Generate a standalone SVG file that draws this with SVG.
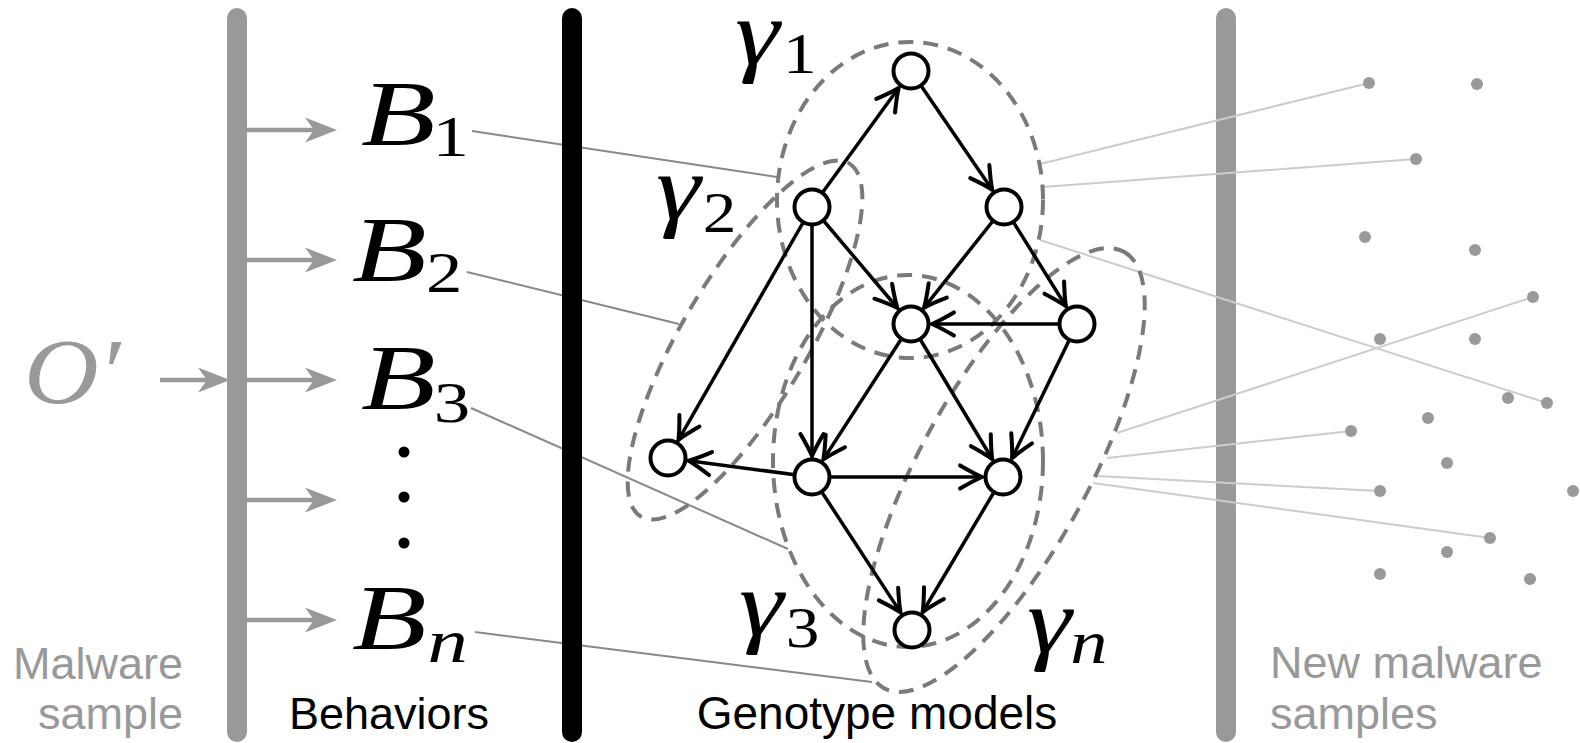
<svg xmlns="http://www.w3.org/2000/svg" width="1580" height="743" viewBox="0 0 1580 743">
<style>
.bar{stroke-width:20;stroke-linecap:round;fill:none}
.garrow{stroke:#999;stroke-width:4.5;fill:none}
.blink{stroke:#888;stroke-width:2;fill:none}
.slink{stroke:#ccc;stroke-width:2;fill:none}
.hull{fill:none;stroke:#7a7a7a;stroke-width:4;stroke-dasharray:15 10}
.edge{stroke:#000;stroke-width:3.5;fill:none}
.node{fill:#fff;stroke:#000;stroke-width:4}
.math{font-family:"Liberation Serif","Times New Roman",serif;font-size:94px;font-style:italic}
.sub{font-size:56px;font-style:normal}
.subi{font-size:62px;font-style:italic}
.lbl{font-family:"Liberation Sans",Arial,sans-serif;font-size:45px}
.dot{fill:#999}
</style>
<defs>
<marker id="ga" markerUnits="userSpaceOnUse" markerWidth="40" markerHeight="30" refX="0" refY="0" viewBox="-25 -15 40 30" orient="auto" overflow="visible">
<path d="M12,0 L-20,-12.5 L-11,0 L-20,12.5 Z" fill="#999"/>
</marker>
<marker id="ba" markerUnits="userSpaceOnUse" markerWidth="30" markerHeight="30" refX="0" refY="0" viewBox="-22 -12 26 24" orient="auto" overflow="visible">
<path d="M-19,-10 Q-7,-3 0,0 Q-7,3 -19,10" fill="none" stroke="#000" stroke-width="3.5" stroke-linecap="round"/>
</marker>
</defs>
<rect width="1580" height="743" fill="#fff"/>

<g id="behavior-links">
<line class="blink" x1="472" y1="131" x2="777" y2="177"/>
<line class="blink" x1="467" y1="272" x2="679" y2="324"/>
<line class="blink" x1="471" y1="408" x2="788" y2="549"/>
<line class="blink" x1="475" y1="632" x2="872" y2="682"/>
</g>

<g id="bars">
<line class="bar" stroke="#999" x1="237" y1="18" x2="237" y2="732"/>
<line class="bar" stroke="#000" x1="572" y1="18" x2="572" y2="732"/>
<line class="bar" stroke="#999" x1="1226" y1="18" x2="1226" y2="732"/>
</g>

<g id="sample-links">
<line class="slink" x1="1040" y1="164" x2="1369" y2="83"/>
<line class="slink" x1="1043" y1="187" x2="1416" y2="159"/>
<line class="slink" x1="1040" y1="240" x2="1547" y2="403"/>
<line class="slink" x1="1117" y1="433" x2="1533" y2="297"/>
<line class="slink" x1="1107" y1="458" x2="1351" y2="431"/>
<line class="slink" x1="1097" y1="476" x2="1380" y2="491"/>
<line class="slink" x1="1093" y1="483" x2="1490" y2="538"/>
</g>

<g id="new-samples">
<circle class="dot" cx="1369" cy="83" r="6"/>
<circle class="dot" cx="1477" cy="84" r="6"/>
<circle class="dot" cx="1416" cy="159" r="6"/>
<circle class="dot" cx="1365" cy="237" r="6"/>
<circle class="dot" cx="1475" cy="250" r="6"/>
<circle class="dot" cx="1533" cy="297" r="6"/>
<circle class="dot" cx="1380" cy="339" r="6"/>
<circle class="dot" cx="1475" cy="339" r="6"/>
<circle class="dot" cx="1508" cy="398" r="6"/>
<circle class="dot" cx="1547" cy="403" r="6"/>
<circle class="dot" cx="1428" cy="418" r="6"/>
<circle class="dot" cx="1351" cy="431" r="6"/>
<circle class="dot" cx="1447" cy="463" r="6"/>
<circle class="dot" cx="1380" cy="491" r="6"/>
<circle class="dot" cx="1573" cy="491" r="6"/>
<circle class="dot" cx="1490" cy="538" r="6"/>
<circle class="dot" cx="1447" cy="552" r="6"/>
<circle class="dot" cx="1380" cy="574" r="6"/>
<circle class="dot" cx="1530" cy="579" r="6"/>
</g>

<g id="input-arrows">
<line class="garrow" x1="160" y1="380" x2="218" y2="380" marker-end="url(#ga)"/>
<line class="garrow" x1="247" y1="130" x2="325" y2="130" marker-end="url(#ga)"/>
<line class="garrow" x1="247" y1="260" x2="325" y2="260" marker-end="url(#ga)"/>
<line class="garrow" x1="247" y1="380" x2="325" y2="380" marker-end="url(#ga)"/>
<line class="garrow" x1="247" y1="500" x2="325" y2="500" marker-end="url(#ga)"/>
<line class="garrow" x1="247" y1="620" x2="325" y2="620" marker-end="url(#ga)"/>
</g>

<g id="models">
<ellipse id="gamma1" class="hull" cx="910" cy="200" rx="133" ry="158"/>
<ellipse id="gamma2" class="hull" cx="0" cy="0" rx="205" ry="63" transform="translate(745 340) rotate(-59.5)"/>
<ellipse id="gamma3" class="hull" cx="908" cy="461" rx="135" ry="186"/>
<ellipse id="gamman" class="hull" cx="0" cy="0" rx="249" ry="84" transform="translate(1004 470) rotate(-61.2)"/>
</g>

<g id="edges">
<line class="edge" x1="812" y1="207" x2="898.6" y2="88" marker-end="url(#ba)"/>
<line class="edge" x1="911" y1="71" x2="992.2" y2="189.7" marker-end="url(#ba)"/>
<line class="edge" x1="812" y1="207" x2="897.4" y2="308" marker-end="url(#ba)"/>
<line class="edge" x1="1004" y1="207" x2="924.1" y2="307.6" marker-end="url(#ba)"/>
<line class="edge" x1="1004" y1="207" x2="1065.9" y2="306.2" marker-end="url(#ba)"/>
<line class="edge" x1="1077" y1="324" x2="932" y2="324" marker-end="url(#ba)"/>
<line class="edge" x1="812" y1="207" x2="678.5" y2="439.8" marker-end="url(#ba)"/>
<line class="edge" x1="812" y1="207" x2="812" y2="456" marker-end="url(#ba)"/>
<line class="edge" x1="911" y1="324" x2="823.4" y2="459.4" marker-end="url(#ba)"/>
<line class="edge" x1="911" y1="324" x2="992.2" y2="459" marker-end="url(#ba)"/>
<line class="edge" x1="1077" y1="324" x2="1012.1" y2="458.1" marker-end="url(#ba)"/>
<line class="edge" x1="812" y1="477" x2="688.8" y2="460.7" marker-end="url(#ba)"/>
<line class="edge" x1="812" y1="477" x2="982" y2="477" marker-end="url(#ba)"/>
<line class="edge" x1="812" y1="477" x2="900.5" y2="612.4" marker-end="url(#ba)"/>
<line class="edge" x1="1003" y1="477" x2="922.7" y2="612" marker-end="url(#ba)"/>
</g>

<g id="n1"><circle class="node" cx="911" cy="71" r="17.5"/></g>
<g id="n2"><circle class="node" cx="812" cy="207" r="17.5"/></g>
<g id="n3"><circle class="node" cx="1004" cy="207" r="17.5"/></g>
<g id="n4"><circle class="node" cx="911" cy="324" r="17.5"/></g>
<g id="n5"><circle class="node" cx="1077" cy="324" r="17.5"/></g>
<g id="n6"><circle class="node" cx="668" cy="458" r="17.5"/></g>
<g id="n7"><circle class="node" cx="812" cy="477" r="17.5"/></g>
<g id="n8"><circle class="node" cx="1003" cy="477" r="17.5"/></g>
<g id="n9"><circle class="node" cx="912" cy="630" r="17.5"/></g>

<g id="label-o"><text class="math" fill="#999" transform="translate(24 403) scale(1.1 1)">O<tspan x="67" y="0">′</tspan></text></g>
<g id="label-b1"><text class="math" transform="translate(361 145) scale(1.3 1)">B<tspan class="sub" x="55" y="11">1</tspan></text></g>
<g id="label-b2"><text class="math" transform="translate(352 281) scale(1.3 1)">B<tspan class="sub" x="57" y="11">2</tspan></text></g>
<g id="label-b3"><text class="math" transform="translate(361 409) scale(1.3 1)">B<tspan class="sub" x="56" y="13">3</tspan></text></g>
<g id="label-dots">
<circle cx="404" cy="452" r="5.5"/>
<circle cx="404" cy="497" r="5.5"/>
<circle cx="404" cy="543" r="5.5"/>
</g>
<g id="label-bn"><text class="math" transform="translate(352 649) scale(1.3 1)">B<tspan class="subi" x="58" y="13">n</tspan></text></g>

<g id="label-g1"><text class="math" transform="translate(735 64) scale(1.2 1)">γ<tspan class="sub" x="40" y="9">1</tspan></text></g>
<g id="label-g2"><text class="math" transform="translate(656 219) scale(1.2 1)">γ<tspan class="sub" x="39" y="13">2</tspan></text></g>
<g id="label-g3"><text class="math" transform="translate(739 635) scale(1.2 1)">γ<tspan class="sub" x="39" y="12">3</tspan></text></g>
<g id="label-gn"><text class="math" transform="translate(1027 652) scale(1.2 1)">γ<tspan class="subi" x="36" y="11">n</tspan></text></g>

<g id="captions">
<text class="lbl" fill="#999" text-anchor="end" x="183" y="679">Malware</text>
<text class="lbl" fill="#999" text-anchor="end" x="183" y="729">sample</text>
<text class="lbl" fill="#000" x="289" y="729">Behaviors</text>
<text class="lbl" fill="#000" text-anchor="middle" x="877" y="729" style="font-size:46px">Genotype models</text>
<text class="lbl" fill="#999" x="1270" y="678">New malware</text>
<text class="lbl" fill="#999" x="1270" y="729">samples</text>
</g>
</svg>
